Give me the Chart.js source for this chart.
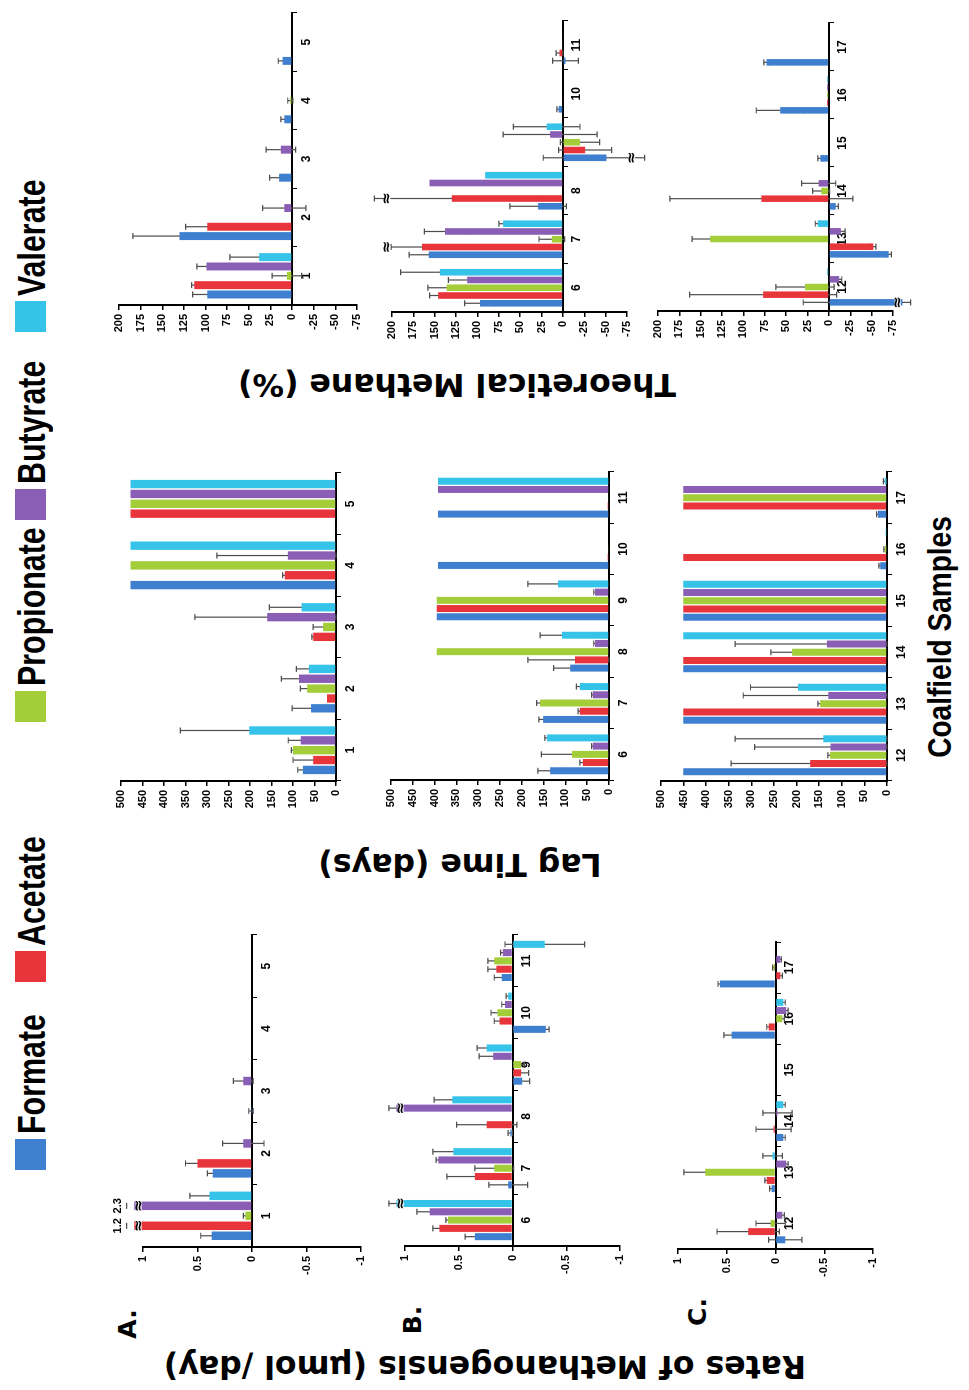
<!DOCTYPE html>
<html>
<head>
<meta charset="utf-8">
<script src="https://cdn.jsdelivr.net/npm/chart.js@4.4.1/dist/chart.umd.min.js"></script>
<style>
  html, body { margin: 0; padding: 0; background: #fff; overflow: hidden; }
  body { width: 969px; height: 1390px; position: relative; }
  /* the figure is laid out in landscape and turned a quarter to the left */
  #fig { position: absolute; left: 0; top: 0; width: 1390px; height: 969px;
         transform-origin: 0 0; transform: translate(0, 1390px) rotate(-90deg); }
  #fig canvas { position: absolute; }
  .lbl { position: absolute; white-space: nowrap; color: #000; }
  .axt { font: bold 31.5px "DejaVu Sans"; transform: translate(-50%, -50%) rotate(-90deg); }
  .row { font: bold 25px "DejaVu Sans"; transform: translate(-50%, -50%); }
  .sq { position: absolute; width: 31px; height: 31px; top: 15px; }
  .key { position: absolute; top: 13px; font: bold 38px "Liberation Sans"; line-height: 38px;
         transform: scaleX(0.8); transform-origin: 0 50%; white-space: nowrap; }
  .xt { font: bold 33px "Liberation Sans"; transform: translate(-50%, -50%) scaleX(0.85); }
</style>
</head>
<body>
<div id="fig">
  <div class="lbl axt" style="left:23px; top:485px;">Rates of Methanogensis (µmol /day)</div>
  <div class="lbl axt" style="left:525px; top:460px;">Lag Time (days)</div>
  <div class="lbl axt" style="left:1005px; top:457px;">Theoretical Methane (%)</div>
  <div class="lbl row" style="left:66px; top:127px;">A.</div>
  <div class="lbl row" style="left:70px; top:412px;">B.</div>
  <div class="lbl row" style="left:78px; top:697px;">C.</div>
  <div class="lbl xt" style="left:753px; top:940px;">Coalfield Samples</div>
</div>
<script>
const acids = ['Formate', 'Acetate', 'Propionate', 'Butyrate', 'Valerate'];
const colors = ['#3f7fcf', '#e8353c', '#a4cd3a', '#8b5eb6', '#36c3ea'];
const legendX = [220, 408, 668, 870, 1058];

const samplesA = ['1', '2', '3', '4', '5'];
const samplesB = ['6', '7', '8', '9', '10', '11'];
const samplesC = ['12', '13', '14', '15', '16', '17'];

// rates of methanogenesis, umol/day (rows: formate, acetate, propionate, butyrate, valerate)
const ratesA = [
  [0.37, 0.36, 0.01, 0, 0],
  [1.2, 0.5, 0, 0, 0],
  [0.06, 0, 0, 0, 0],
  [2.3, 0.08, 0.08, 0, 0],
  [0.39, 0, 0, 0, 0]
];
const ratesAErr = [
  [0.1, 0.05, 0.02, 0, 0],
  [0.05, 0.11, 0, 0, 0],
  [0.02, 0, 0, 0, 0],
  [0.05, 0.19, 0.09, 0, 0],
  [0.18, 0, 0, 0, 0]
];
const ratesB = [
  [0.35, 0.04, 0.02, -0.09, -0.31, 0.1],
  [0.68, 0.35, 0.24, -0.08, 0.12, 0.15],
  [0.6, 0.17, 0, -0.08, 0.14, 0.17],
  [0.77, 0.69, 1.1, 0.18, 0.07, 0.09],
  [1.1, 0.55, 0.56, 0.24, 0.04, -0.3]
];
const ratesBErr = [
  [0.09, 0.18, 0.02, 0.07, 0.03, 0.07],
  [0.06, 0.26, 0.28, 0.07, 0.05, 0.08],
  [0.02, 0.18, 0, 0.03, 0.06, 0.06],
  [0.12, 0.02, 0.1, 0.13, 0.03, 0.02],
  [0.1, 0.19, 0.17, 0.09, 0.02, 0.37]
];
const ratesC = [
  [-0.1, 0.04, -0.08, 0, 0.45, 0.57],
  [0.28, 0.09, 0.02, 0, 0.07, -0.05],
  [0.05, 0.72, 0, 0, -0.07, 0.02],
  [-0.07, -0.11, -0.02, 0, -0.11, -0.05],
  [0, 0.03, -0.08, 0, -0.08, 0]
];
const ratesCErr = [
  [0.17, 0.02, 0.02, 0, 0.08, 0.02],
  [0.32, 0.02, 0.18, 0, 0.02, 0.02],
  [0.15, 0.22, 0, 0, 0.02, 0.01],
  [0.02, 0.02, 0.15, 0, 0.02, 0.01],
  [0, 0.1, 0.02, 0, 0.02, 0]
];

// lag time, days
const lagA = [
  [77, 58, 2, 478, 0],
  [53, 21, 53, 119, 478],
  [100, 67, 30, 478, 478],
  [82, 86, 160, 112, 478],
  [202, 63, 80, 478, 478]
];
const lagAErr = [
  [12, 44, 0, 0, 0],
  [47, 0, 3, 5, 0],
  [4, 16, 23, 0, 0],
  [29, 41, 168, 165, 0],
  [160, 29, 75, 0, 0]
];
const lagB = [
  [135, 151, 89, 395, 392, 392],
  [60, 67, 78, 395, 3, 3],
  [85, 158, 395, 395, 2, 2],
  [37, 37, 32, 32, 0, 392],
  [142, 67, 108, 117, 0, 392]
];
const lagBErr = [
  [28, 10, 38, 0, 0, 0],
  [7, 4, 108, 0, 0, 0],
  [70, 8, 0, 0, 0, 0],
  [3, 3, 3, 3, 0, 0],
  [5, 8, 50, 69, 0, 0]
];
const lagC = [
  [451, 451, 451, 451, 15, 20],
  [170, 451, 451, 451, 451, 451],
  [126, 148, 210, 451, 5, 451],
  [125, 130, 133, 451, 0, 451],
  [141, 197, 451, 451, 3, 5]
];
const lagCErr = [
  [0, 0, 0, 0, 3, 3],
  [175, 0, 0, 0, 0, 0],
  [5, 5, 47, 0, 2, 0],
  [168, 188, 203, 0, 0, 0],
  [195, 105, 0, 0, 0, 3]
];

// theoretical methane, %
const theoA = [
  [98, 130, 15, 9, 11],
  [113, 98, 0, 0, 0],
  [6, 0, 0, 2, 0],
  [99, 9, 13, 0, 0],
  [38, 0, 0, 0, 0]
];
const theoAErr = [
  [17, 54, 11, 4, 5],
  [3, 25, 0, 0, 0],
  [17, 0, 0, 3, 0],
  [11, 25, 17, 0, 0],
  [34, 0, 0, 0, 0]
];
const theoB = [
  [97, 157, 29, -51, 5, -3],
  [146, 165, 130, -26, 1, 4],
  [136, 13, 0, -20, 0, 1],
  [112, 138, 156, 15, 0, 1],
  [144, 70, 91, 19, 0, 0]
];
const theoBErr = [
  [18, 23, 33, 74, 2, 15],
  [10, 36, 100, 31, 0, 4],
  [22, 15, 0, 23, 0, 0],
  [22, 24, 0, 55, 0, 0],
  [46, 5, 0, 39, 0, 0]
];
const theoC = [
  [-110, -70, -8, 10, 57, 73],
  [77, -52, 79, 0, 2, 0],
  [28, 139, 9, 0, 2, 0],
  [-12, -14, 12, 0, 2, 0],
  [2, 13, 0, 0, 2, 0]
];
const theoCErr = [
  [140, 3, 3, 3, 28, 3],
  [86, 3, 107, 0, 0, 0],
  [34, 21, 10, 0, 0, 0],
  [3, 5, 20, 0, 0, 0],
  [0, 3, 0, 0, 0, 0]
];

const rateAxis = { min: -1, max: 1, step: 0.5 };
const lagAxis = { min: 0, max: 500, step: 50 };
const theoAxis = { min: -75, max: 200, step: 25 };

// area = chart area in the landscape figure: left, top, right, bottom
const panels = [
  { labels: samplesA, vals: ratesA, errs: ratesAErr, axis: rateAxis, area: [143, 143, 455, 361], breaks: true, showValue: true },
  { labels: samplesB, vals: ratesB, errs: ratesBErr, axis: rateAxis, area: [144, 405, 455, 620], breaks: true },
  { labels: samplesC, vals: ratesC, errs: ratesCErr, axis: rateAxis, area: [141, 678, 448, 873], breaks: true },
  { labels: samplesA, vals: lagA, errs: lagAErr, axis: lagAxis, area: [609, 121, 917, 336], breaks: false },
  { labels: samplesB, vals: lagB, errs: lagBErr, axis: lagAxis, area: [610, 391, 918, 609], breaks: false },
  { labels: samplesC, vals: lagC, errs: lagCErr, axis: lagAxis, area: [609, 661, 918, 887], breaks: false },
  { labels: samplesA, vals: theoA, errs: theoAErr, axis: theoAxis, area: [1085, 119, 1377, 357], breaks: true },
  { labels: samplesB, vals: theoB, errs: theoBErr, axis: theoAxis, area: [1078, 392, 1369, 627], breaks: true },
  { labels: samplesC, vals: theoC, errs: theoCErr, axis: theoAxis, area: [1079, 658, 1367, 893], breaks: true }
];

const fig = document.getElementById('fig');

acids.forEach((name, i) => {
  const sq = document.createElement('div');
  sq.className = 'sq';
  sq.style.left = legendX[i] + 'px';
  sq.style.background = colors[i];
  fig.appendChild(sq);
  const t = document.createElement('div');
  t.className = 'key';
  t.style.left = (legendX[i] + 36) + 'px';
  t.textContent = name;
  fig.appendChild(t);
});

// error bars go behind the bars; break marks and clipped values on top
const errBars = {
  id: 'errbars',
  beforeDatasetsDraw(chart, args, opts) {
    const ctx = chart.ctx, ys = chart.scales.y;
    const R = ys.max - ys.min;
    const top = opts.breaks ? ys.max + 0.075 * R : ys.max;
    const bot = opts.breaks ? ys.min - 0.075 * R : ys.min;
    const clamp = v => Math.max(bot, Math.min(top, v));
    ctx.save();
    ctx.strokeStyle = '#4d4d4d';
    ctx.lineWidth = 1.2;
    chart.data.datasets.forEach((ds, i) => {
      const meta = chart.getDatasetMeta(i);
      ds.raw.forEach((v, j) => {
        const e = ds.err[j];
        if (!e) return;
        const x = meta.data[j].x;
        const y1 = ys.getPixelForValue(clamp(v + e));
        const y2 = ys.getPixelForValue(clamp(v - e));
        ctx.beginPath();
        ctx.moveTo(x, y1); ctx.lineTo(x, y2);
        ctx.moveTo(x - 3, y1); ctx.lineTo(x + 3, y1);
        ctx.moveTo(x - 3, y2); ctx.lineTo(x + 3, y2);
        ctx.stroke();
      });
    });
    ctx.restore();
  },
  afterDatasetsDraw(chart, args, opts) {
    if (!opts.breaks) return;
    const ctx = chart.ctx, ys = chart.scales.y;
    const R = ys.max - ys.min;
    ctx.save();
    ctx.textAlign = 'center';
    chart.data.datasets.forEach((ds, i) => {
      const meta = chart.getDatasetMeta(i);
      ds.raw.forEach((v, j) => {
        const e = ds.err[j] || 0;
        const bar = meta.data[j];
        const marks = [];
        if (v + e > ys.max) marks.push(ys.max + 0.02 * R);
        if (v - e < ys.min) marks.push(ys.min - 0.02 * R);
        marks.forEach(m => {
          const y = ys.getPixelForValue(m);
          ctx.fillStyle = '#fff';
          ctx.fillRect(bar.x - 6, y - 3, 12, 6);
          ctx.fillStyle = '#000';
          ctx.font = 'bold 15px "DejaVu Sans"';
          ctx.textBaseline = 'middle';
          ctx.fillText('\u2248', bar.x, y);
        });
        if (opts.showValue && v > ys.max) {
          ctx.font = 'bold 11px "Liberation Sans"';
          ctx.textBaseline = 'bottom';
          ctx.fillText(String(v), bar.x, ys.getPixelForValue(ys.max + 0.075 * R) - 3);
        }
      });
    });
    ctx.restore();
  }
};

const tickFont = { family: 'Liberation Sans', weight: 'bold', size: 11 };

function drawPanel(p) {
  const [l, t, r, b] = p.area;
  const padL = 50, padT = 42, padR = 15, padB = 28;
  const cv = document.createElement('canvas');
  cv.width = r - l + padL + padR;
  cv.height = b - t + padT + padB;
  cv.style.left = (l - padL) + 'px';
  cv.style.top = (t - padT) + 'px';
  cv.style.width = cv.width + 'px';
  cv.style.height = cv.height + 'px';
  fig.appendChild(cv);

  const R = p.axis.max - p.axis.min;
  const lo = p.breaks ? p.axis.min - 0.04 * R : p.axis.min;
  const hi = p.breaks ? p.axis.max + 0.04 * R : p.axis.max;
  const datasets = acids.map((name, i) => ({
    label: name,
    data: p.vals[i].map(v => Math.max(lo, Math.min(hi, v))),
    raw: p.vals[i],
    err: p.errs[i],
    backgroundColor: colors[i],
    borderWidth: 0,
    categoryPercentage: 0.8,
    barPercentage: 0.85,
    clip: false
  }));

  new Chart(cv, {
    type: 'bar',
    data: { labels: p.labels, datasets },
    options: {
      responsive: false,
      animation: false,
      devicePixelRatio: 1,
      layout: { padding: { left: 0, top: padT, right: padR, bottom: padB } },
      plugins: {
        legend: { display: false },
        tooltip: { enabled: false },
        errbars: { breaks: p.breaks, showValue: !!p.showValue }
      },
      scales: {
        x: {
          position: { y: 0 },
          grid: { drawOnChartArea: false, tickLength: 4, color: '#000' },
          border: { color: '#000', width: 2 },
          ticks: { color: '#000', font: { ...tickFont, size: 12 }, padding: 3, autoSkip: false, maxRotation: 0 }
        },
        y: {
          min: p.axis.min,
          max: p.axis.max,
          afterFit: s => { s.width = padL; },
          grid: { drawOnChartArea: false, tickLength: 5, color: '#000', lineWidth: 1.5 },
          border: { color: '#000', width: 2 },
          ticks: {
            stepSize: p.axis.step, color: '#000', font: tickFont, padding: 4,
            callback: v => String(Number(v))
          }
        }
      }
    },
    plugins: [errBars]
  });
}

panels.forEach(drawPanel);
</script>
</body>
</html>
